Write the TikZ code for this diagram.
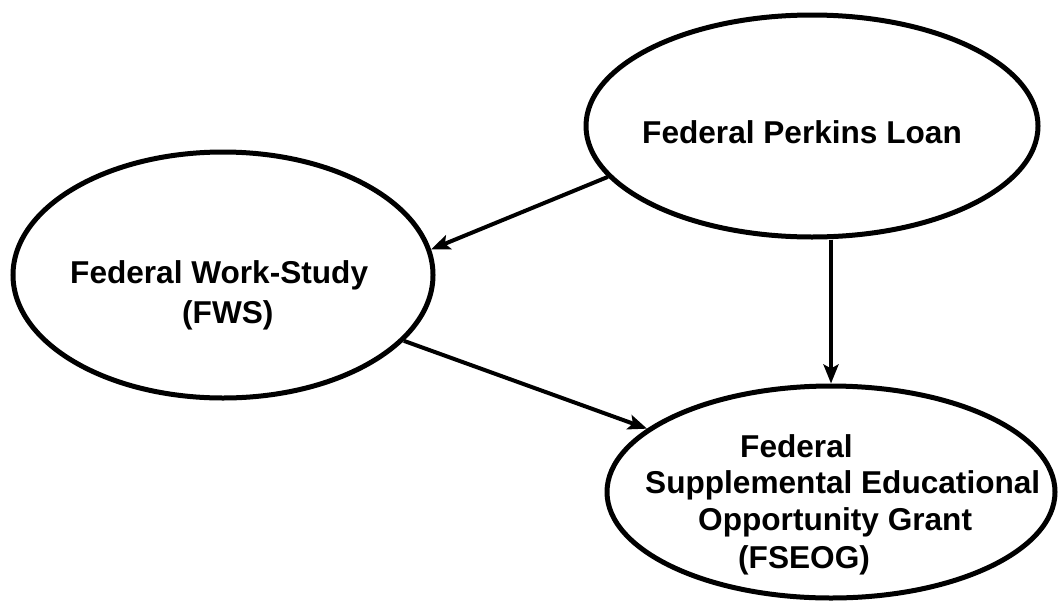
\documentclass[tikz,border=0pt]{standalone}
\usepackage{fontspec}
\setmainfont{Liberation Sans}
\usetikzlibrary{shapes.geometric,arrows.meta}
\tikzset{
  oval/.style={ellipse, draw=black, line width=5pt, fill=white, inner sep=0pt},
  lbl/.style={font=\bfseries\fontsize{31.6}{37}\selectfont, inner sep=0pt, anchor=base west},
  conn/.style={line width=4pt, -{Stealth[length=19pt,width=15pt,inset=4pt]}}
}
\begin{document}
\begin{tikzpicture}[x=1pt,y=-1pt]
\useasboundingbox (0,0) rectangle (1059,600);
% ellipses
\node[oval, minimum width=452pt, minimum height=222pt] (perkins) at (812,126) {};
\node[oval, minimum width=420pt, minimum height=246pt] (fws) at (223,275) {};
\node[oval, minimum width=448pt, minimum height=212pt] (fseog) at (831,492) {};
% texts
\node[lbl] (tperkins) at (642,143) {Federal Perkins Loan};
\node[lbl] (tfwsA) at (70,283) {Federal Work-Study};
\node[lbl] (tfwsB) at (182,323) {(FWS)};
\node[lbl] (tfsA) at (740,457) {Federal};
\node[lbl] (tfsB) at (645,493) {Supplemental Educational};
\node[lbl] (tfsC) at (698,530) {Opportunity Grant};
\node[lbl] (tfsD) at (738,568) {(FSEOG)};
% connectors
\draw[conn] (perkins.194) -- (fws.7);
\draw[conn] (fseog.north |- perkins.south) -- (fseog.north);
\draw[conn] (fws.-20) -- (fseog.161);
\end{tikzpicture}
\end{document}
